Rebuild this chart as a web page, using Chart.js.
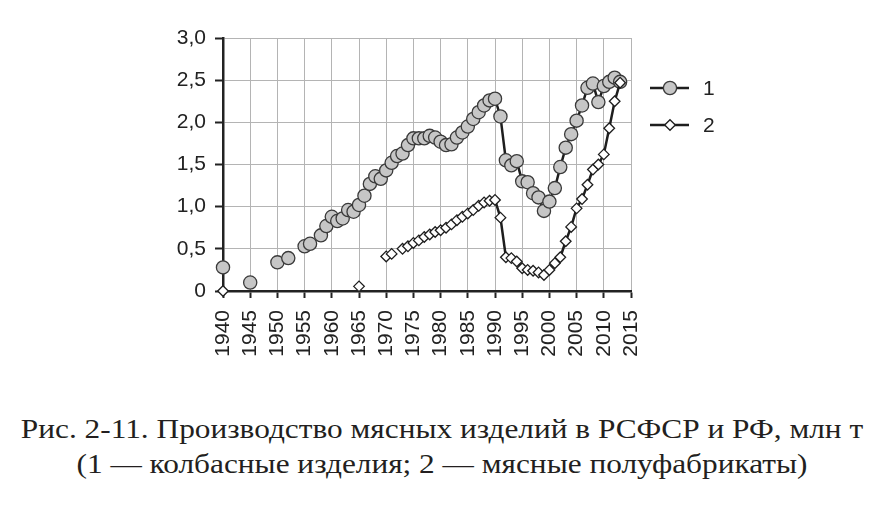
<!DOCTYPE html>
<html lang="ru">
<head>
    <meta charset="UTF-8">
    <title>Производство мясных изделий</title>
    <script src="https://cdn.jsdelivr.net/npm/chart.js"></script>
    <style>
        body {
            margin: 0;
            background: #fff;
            width: 895px;
            height: 510px;
            overflow: hidden;
        }
        .chart-box {
            position: absolute;
            left: 0;
            top: 0;
            width: 895px;
            height: 370px;
        }
        .caption {
            position: absolute;
            left: 0;
            width: 884px;
            text-align: center;
            font-family: "Liberation Serif", serif;
            font-size: 27px;
            color: #231f20;
            white-space: nowrap;
            transform: scaleX(1.16);
            transform-origin: 442px 0;
        }
    </style>
</head>
<body>

    <div class="chart-box">
        <canvas id="meatChart"></canvas>
    </div>
    <div class="caption" style="top: 414px;">Рис. 2-11. Производство мясных изделий в РСФСР и РФ, млн т</div>
    <div class="caption" style="top: 449px;">(1 — колбасные изделия; 2 — мясные полуфабрикаты)</div>

    <script>
        // 1 - колбасные изделия, млн т
        const years1 = [1940, 1945, 1950, 1952, 1955, 1956, 1958, 1959, 1960, 1961, 1962, 1963, 1964,
            1965, 1966, 1967, 1968, 1969, 1970, 1971, 1972, 1973, 1974, 1975, 1976, 1977, 1978, 1979,
            1980, 1981, 1982, 1983, 1984, 1985, 1986, 1987, 1988, 1989, 1990, 1991, 1992, 1993, 1994,
            1995, 1996, 1997, 1998, 1999, 2000, 2001, 2002, 2003, 2004, 2005, 2006, 2007, 2008, 2009,
            2010, 2011, 2012, 2013];
        const sausage = [0.28, 0.10, 0.34, 0.39, 0.53, 0.56, 0.66, 0.77, 0.88, 0.83, 0.86, 0.96, 0.94,
            1.02, 1.13, 1.27, 1.36, 1.33, 1.43, 1.52, 1.60, 1.63, 1.73, 1.81, 1.81, 1.81, 1.84, 1.82,
            1.77, 1.73, 1.74, 1.82, 1.88, 1.95, 2.04, 2.12, 2.20, 2.26, 2.28, 2.07, 1.55, 1.49, 1.54,
            1.30, 1.29, 1.16, 1.11, 0.95, 1.06, 1.22, 1.47, 1.70, 1.86, 2.02, 2.20, 2.41, 2.46, 2.24,
            2.43, 2.48, 2.53, 2.48];

        // 2 - мясные полуфабрикаты, млн т
        const years2 = [1940, 1965, 1970, 1971, 1973, 1974, 1975, 1976, 1977, 1978, 1979,
            1980, 1981, 1982, 1983, 1984, 1985, 1986, 1987, 1988, 1989, 1990, 1991, 1992, 1993, 1994,
            1995, 1996, 1997, 1998, 1999, 2000, 2001, 2002, 2003, 2004, 2005, 2006, 2007, 2008, 2009,
            2010, 2011, 2012, 2013];
        const semiFinished = [0, 0.055, 0.41, 0.44, 0.50, 0.53, 0.57, 0.60, 0.64, 0.67, 0.70,
            0.72, 0.75, 0.79, 0.84, 0.88, 0.92, 0.96, 1.01, 1.05, 1.07, 1.08, 0.87, 0.40, 0.39, 0.35,
            0.27, 0.25, 0.24, 0.22, 0.19, 0.25, 0.33, 0.40, 0.59, 0.76, 0.98, 1.09, 1.26, 1.44, 1.50,
            1.62, 1.93, 2.25, 2.47];

        const seriesNames = ['1', '2'];

        const toPoints = (xs, ys) => xs.map((x, i) => ({ x: x, y: ys[i] }));

        // no line across missing years
        const gapSegment = {
            borderColor: ctx => (ctx.p1.parsed.x - ctx.p0.parsed.x > 1.5 ? 'rgba(0,0,0,0)' : undefined)
        };

        const axisFont = { family: '"Liberation Sans", Arial, sans-serif', size: 21 };

        // line + marker legend on the right, like the original
        const sideLegend = {
            id: 'sideLegend',
            afterDraw(chart) {
                const ctx = chart.ctx;
                const rows = [88, 125];
                chart.data.datasets.forEach((ds, i) => {
                    const y = rows[i];
                    const style = {
                        pointStyle: ds.pointStyle,
                        radius: ds.pointRadius,
                        borderWidth: ds.pointBorderWidth,
                        rotation: 0
                    };
                    ctx.save();
                    ctx.strokeStyle = ds.borderColor;
                    ctx.lineWidth = ds.borderWidth;
                    ctx.beginPath();
                    ctx.moveTo(650, y);
                    ctx.lineTo(689, y);
                    ctx.stroke();
                    ctx.fillStyle = ds.pointBackgroundColor;
                    ctx.strokeStyle = ds.pointBorderColor;
                    ctx.lineWidth = ds.pointBorderWidth;
                    Chart.helpers.drawPoint(ctx, style, 670, y);
                    ctx.fillStyle = '#222';
                    ctx.font = '21px "Liberation Sans", Arial, sans-serif';
                    ctx.textBaseline = 'middle';
                    ctx.fillText(ds.label, 703, y + 1);
                    ctx.restore();
                });
            }
        };

        new Chart(document.getElementById('meatChart'), {
            type: 'line',
            data: {
                datasets: [{
                    label: seriesNames[0],
                    data: toPoints(years1, sausage),
                    borderColor: '#1e1e1e',
                    borderWidth: 2.5,
                    pointStyle: 'circle',
                    pointRadius: 6.6,
                    pointBackgroundColor: '#c6c6c6',
                    pointBorderColor: '#3a3a3a',
                    pointBorderWidth: 1.3,
                    segment: gapSegment,
                    clip: false,
                    order: 2
                }, {
                    label: seriesNames[1],
                    data: toPoints(years2, semiFinished),
                    borderColor: '#1e1e1e',
                    borderWidth: 2.5,
                    pointStyle: 'rectRot',
                    pointRadius: 5.3,
                    pointBackgroundColor: '#ffffff',
                    pointBorderColor: '#1e1e1e',
                    pointBorderWidth: 1.3,
                    segment: gapSegment,
                    clip: false,
                    order: 1
                }]
            },
            options: {
                responsive: true,
                maintainAspectRatio: false,
                animation: false,
                layout: { padding: { left: 0, right: 264, top: 38, bottom: 0 } },
                plugins: {
                    legend: { display: false },
                    tooltip: { enabled: false }
                },
                scales: {
                    x: {
                        type: 'linear',
                        min: 1940,
                        max: 2015,
                        afterFit: scale => { scale.height = 79; },
                        ticks: {
                            stepSize: 5,
                            autoSkip: false,
                            minRotation: 90,
                            maxRotation: 90,
                            padding: 12,
                            color: '#222',
                            font: axisFont,
                            callback: v => String(v)
                        },
                        grid: { color: '#b4b4b4', lineWidth: 1, tickColor: '#222', tickLength: 7, tickWidth: 2 },
                        border: { color: '#222', width: 2.5 }
                    },
                    y: {
                        min: 0,
                        max: 3,
                        afterFit: scale => { scale.width = 223; },
                        ticks: {
                            stepSize: 0.5,
                            padding: 9,
                            color: '#222',
                            font: axisFont,
                            callback: v => (v === 0 ? '0' : v.toFixed(1).replace('.', ','))
                        },
                        grid: { color: '#b4b4b4', lineWidth: 1, tickColor: '#222', tickLength: 8, tickWidth: 2 },
                        border: { color: '#222', width: 2.5 }
                    }
                }
            },
            plugins: [sideLegend]
        });
    </script>

</body>
</html>
